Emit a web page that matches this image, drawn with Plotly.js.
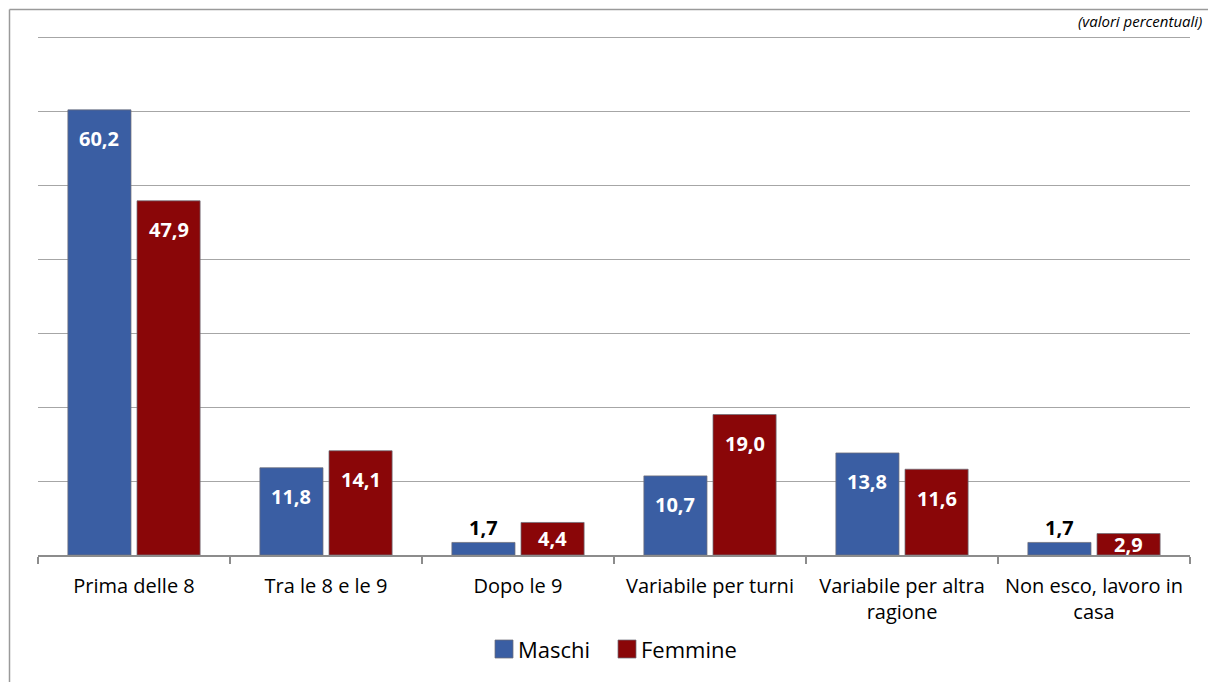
<!DOCTYPE html>
<html>
<head>
<meta charset="utf-8">
<script src="https://cdn.plot.ly/plotly-3.0.1.min.js"></script>
<style>
  html, body { margin: 0; padding: 0; background: #fff; }
  #chart { width: 1208px; height: 682px; }
</style>
</head>
<body>
<div id="chart"></div>
<script>
// Orario di uscita da casa per andare al lavoro, per sesso (valori percentuali)
const categories = [
  "Prima delle 8",
  "Tra le 8 e le 9",
  "Dopo le 9",
  "Variabile per turni",
  "Variabile per altra<br>ragione",
  "Non esco, lavoro in<br>casa"
];
const maschi = [60.2, 11.8, 1.7, 10.7, 13.8, 1.7];
const femmine = [47.9, 14.1, 4.4, 19.0, 11.6, 2.9];
const seriesNames = ["Maschi", "Femmine"];

const BLUE = "#3a5ea3";
const RED = "#8a0608";
const COLORS = [BLUE, RED];
const EDGE = "rgba(110,110,120,0.75)";
const FONT = "'Open Sans', Lato, sans-serif";

const W = 1208, H = 682;
const M = { l: 38, r: 18, t: 30, b: 127 };
const Y_MAX = 71;
const plotW = W - M.l - M.r;
const plotH = H - M.t - M.b;
const pxPerUnit = plotH / Y_MAX;

// pixel -> paper helpers for decorations outside the plot area
const px = x => (x - M.l) / plotW;
const py = y => (H - M.b - y) / plotH;

const fmt = v => v.toFixed(1).replace(".", ",");

const BARGAP = 0.28;
const GROUPGAP = 0.087;
const slot = (1 - BARGAP) / 2;
const offsets = [-slot / 2, slot / 2];

function barTrace(name, values, color) {
  return {
    type: "bar",
    name: name,
    x: categories,
    y: values,
    marker: { color: color, line: { color: EDGE, width: 1 } },
    hoverinfo: "skip",
    showlegend: false
  };
}

// value labels: inside near the top, or above the bar when it is too short
const annotations = [];
[maschi, femmine].forEach((vals, s) => {
  vals.forEach((v, i) => {
    const hPx = v * pxPerUnit;
    const outside = hPx < 18;
    annotations.push({
      x: i + offsets[s],
      y: v,
      xref: "x",
      yref: "y",
      text: "<b>" + fmt(v) + "</b>",
      showarrow: false,
      xanchor: "center",
      yanchor: outside ? "bottom" : "middle",
      yshift: outside ? -1 : -Math.min(29, hPx / 2),
      font: { family: FONT, size: 20, color: outside ? "#000" : "#fff" }
    });
  });
});

// subtitle in the top-right corner
annotations.push({
  xref: "paper", yref: "paper",
  x: px(1204), y: py(21),
  xanchor: "right", yanchor: "middle",
  text: "<i>(valori percentuali)</i>",
  showarrow: false,
  font: { family: FONT, size: 15, color: "#000" }
});

// legend: coloured squares with series names
const legendX = [495, 618];
seriesNames.forEach((name, k) => {
  annotations.push({
    xref: "paper", yref: "paper",
    x: px(legendX[k] + 21), y: py(649),
    xanchor: "left", yanchor: "middle",
    text: name,
    showarrow: false,
    font: { family: FONT, size: 22, color: "#000" }
  });
});

const shapes = [
  // chart frame (left and top edges)
  {
    type: "line", xref: "paper", yref: "paper",
    x0: px(9.5), x1: px(9.5), y0: py(690), y1: py(9.5),
    line: { color: "#9a9a9a", width: 1.5 }
  },
  {
    type: "line", xref: "paper", yref: "paper",
    x0: px(9.5), x1: px(1215), y0: py(9.5), y1: py(9.5),
    line: { color: "#9a9a9a", width: 1.5 }
  }
];
legendX.forEach((x0, k) => {
  shapes.push({
    type: "rect", xref: "paper", yref: "paper",
    x0: px(x0), x1: px(x0 + 18), y0: py(658), y1: py(640),
    fillcolor: COLORS[k],
    line: { color: EDGE, width: 1 }
  });
});

const layout = {
  width: W,
  height: H,
  margin: M,
  paper_bgcolor: "#fff",
  plot_bgcolor: "#fff",
  barmode: "group",
  bargap: BARGAP,
  bargroupgap: GROUPGAP,
  font: { family: FONT, size: 18, color: "#000" },
  xaxis: {
    type: "category",
    tickson: "boundaries",
    ticks: "outside",
    ticklen: 7,
    tickcolor: "#8c8c8c",
    tickwidth: 1.5,
    showline: true,
    linecolor: "#8c8c8c",
    linewidth: 1.5,
    showgrid: false,
    tickangle: 0,
    ticklabelstandoff: 12,
    tickfont: { family: FONT, size: 20, color: "#000" },
    fixedrange: true
  },
  yaxis: {
    range: [0, Y_MAX],
    dtick: 10,
    showgrid: true,
    gridcolor: "#a6a6a6",
    gridwidth: 1,
    zeroline: false,
    showticklabels: false,
    ticks: "",
    fixedrange: true
  },
  showlegend: false,
  annotations: annotations,
  shapes: shapes
};

Plotly.newPlot("chart", [
  barTrace(seriesNames[0], maschi, BLUE),
  barTrace(seriesNames[1], femmine, RED)
], layout, { displayModeBar: false, staticPlot: true });
</script>
</body>
</html>
